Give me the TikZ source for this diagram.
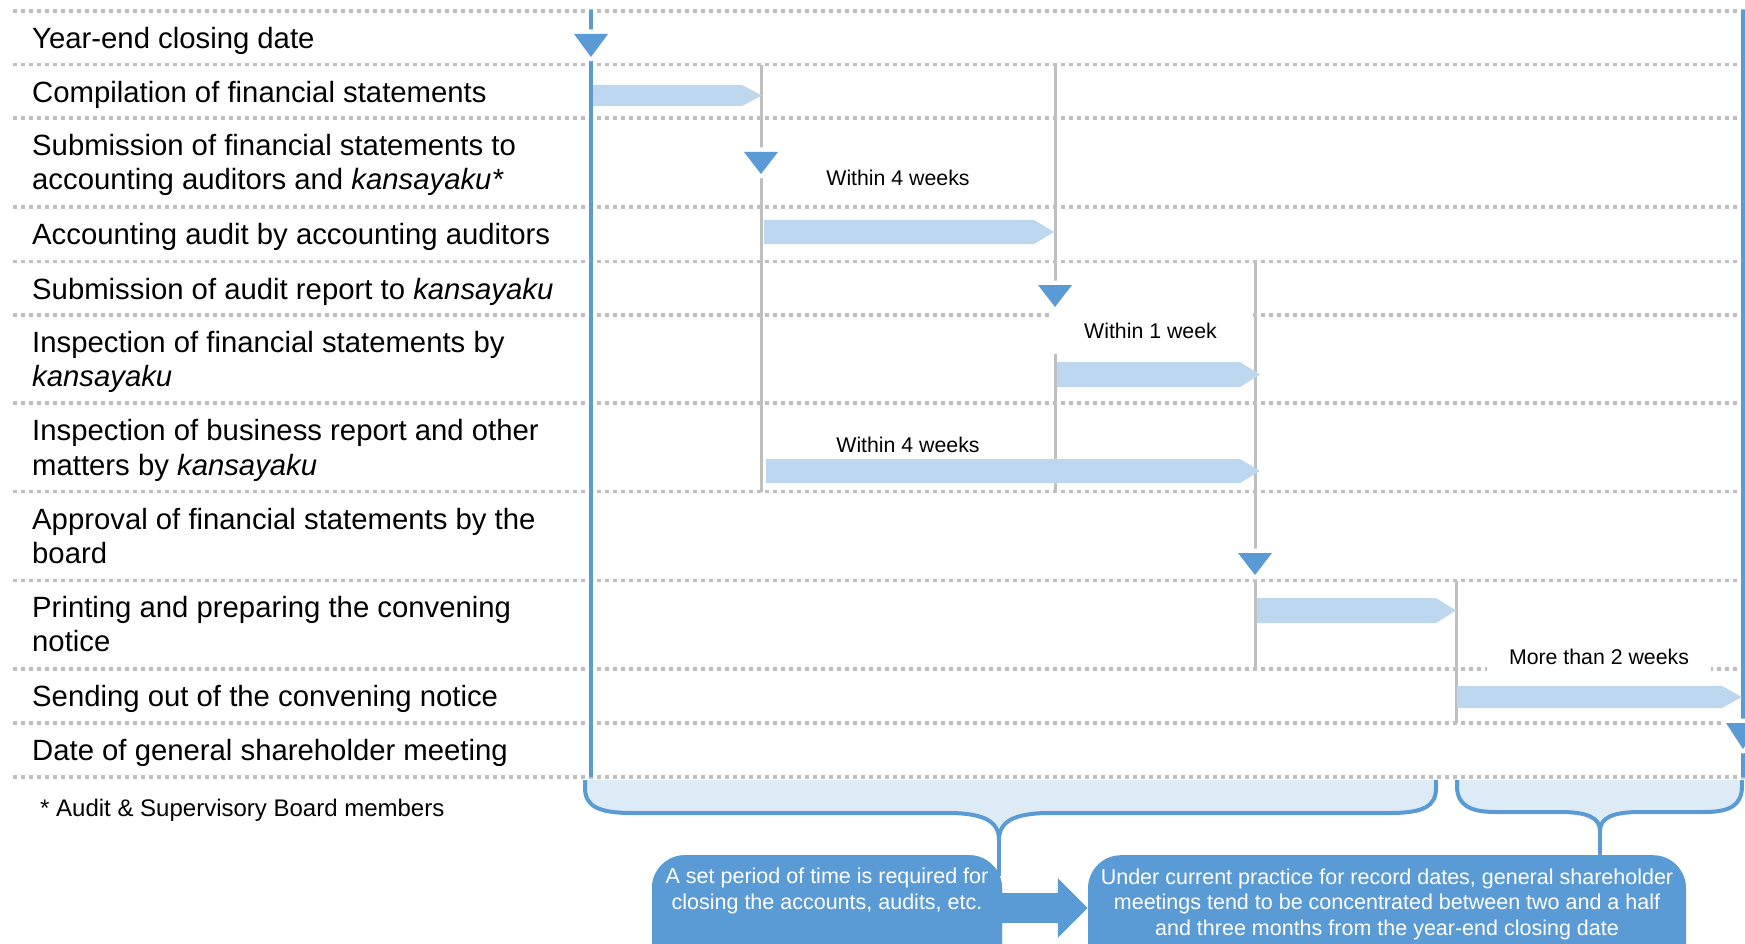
\documentclass[tikz,border=0pt]{standalone}
\usepackage{fontspec}
\setmainfont{Liberation Sans}
\usetikzlibrary{arrows.meta}
\definecolor{mblue}{HTML}{5B9BD5}
\definecolor{lblue}{HTML}{BDD7EE}
\definecolor{bfill}{HTML}{DDEBF7}
\definecolor{gridc}{HTML}{BFBFBF}
\newcommand\mybar[4]{\fill[bar] (#1,{#3-#4/2}) -- ({#2-20},{#3-#4/2}) -- (#2,#3) -- ({#2-20},{#3+#4/2}) -- (#1,{#3+#4/2}) -- cycle;}
\newcommand\mytri[3]{%
  \path[draw=white,line width=9pt,line join=round] ({#1-17},#2) -- ({#1+17},#2) -- (#1,{#2+#3}) -- cycle;
  \fill[mblue] ({#1-17},#2) -- ({#1+17},#2) -- (#1,{#2+#3}) -- cycle;}
\begin{document}
\begin{tikzpicture}[x=1pt,y=-1pt,
  rowline/.style={draw=gridc,line width=3.5pt,dash pattern=on 4pt off 4pt},
  vgray/.style={draw=gridc,line width=3pt},
  vblue/.style={draw=mblue,line width=3.5pt},
  bar/.style={fill=lblue},
  lab/.style={anchor=west,inner sep=0pt,align=left,font=\fontsize{29.3}{34.5}\selectfont,execute at begin node=\strut,execute at end node=\strut},
  dur/.style={inner sep=0pt,font=\fontsize{21.3}{25}\selectfont},
  brace/.style={draw=mblue,line width=4pt,fill=bfill,line join=round},
  stem/.style={draw=mblue,line width=4pt},
  box/.style={fill=mblue,rounded corners=33pt,inner sep=0pt},
  boxtext/.style={text=white,align=center,inner sep=0pt,font=\fontsize{21.5}{25.5}\selectfont}
]
\useasboundingbox (0,0) rectangle (1745,944);
\clip (0,0) rectangle (1745,944);
% row separators
\foreach \y in {11,64.7,118,207,261.5,315,403,491.5,580.5,669,723,777}
  \draw[rowline] (13,\y) -- (1745,\y);
% vertical lines
\draw[vgray] (761,64.7) -- (761,491.5);
\draw[vgray] (1055,64.7) -- (1055,491.5);
\draw[vgray] (1255,261.5) -- (1255,669);
\draw[vgray] (1456,580.5) -- (1456,723);
\draw[vblue] (591,10) -- (591,777);
\draw[vblue] (1743,10) -- (1743,777);
% bars
\mybar{593}{762}{95.5}{21}
\mybar{764}{1054}{232}{24}
\mybar{1057}{1260}{374.5}{25}
\mybar{766}{1260}{471}{24}
\mybar{1257}{1456}{610.5}{25}
\mybar{1457}{1742}{697}{22}
% markers
\mytri{591}{34}{23}
\mytri{761}{152}{22}
\mytri{1055}{285}{22}
\mytri{1255}{553}{22}
\mytri{1743}{723}{26}
% duration labels
\node[dur] (w4a) at (898,178) {Within 4 weeks};
\node[dur] (w4b) at (908,445) {Within 4 weeks};
\node[dur,fill=white,minimum width=197pt,minimum height=46pt] (w1) at (1150.5,331) {Within 1 week};
\node[dur,fill=white,minimum width=224pt,minimum height=46pt] (m2) at (1599,657) {More than 2 weeks};
% row labels
\node[lab] (l1) at (32,42) {Year-end closing date};
\node[lab] (l2) at (32,95.4) {Compilation of financial statements};
\node[lab] (l3) at (32,167) {Submission of financial statements to\\accounting auditors and \textit{kansayaku*}};
\node[lab] (l4) at (32,238) {Accounting audit by accounting auditors};
\node[lab] (l5) at (32,292.5) {Submission of audit report to \textit{kansayaku}};
\node[lab] (l6) at (32,364) {Inspection of financial statements by\\\textit{kansayaku}};
\node[lab] (l7) at (32,452.5) {Inspection of business report and other\\matters by \textit{kansayaku}};
\node[lab] (l8) at (32,541) {Approval of financial statements by the\\board};
\node[lab] (l9) at (32,629) {Printing and preparing the convening\\notice};
\node[lab] (l10) at (32,700) {Sending out of the convening notice};
\node[lab] (l11) at (32,754) {Date of general shareholder meeting};
\node[anchor=west,inner sep=0pt,font=\fontsize{24}{28}\selectfont] (fn) at (40,810) {* Audit \& Supervisory Board members};
% braces
\filldraw[brace] (585,780) -- (585,788) .. controls (585,806) and (598,813) .. (632,813) -- (948,813) .. controls (985,813) and (999,822) .. (999,840) .. controls (999,822) and (1013,813) .. (1050,813) -- (1390,813) .. controls (1424,813) and (1436,806) .. (1436,788) -- (1436,780);
\coordinate (ltip) at (999,838);
\filldraw[brace] (1457,780) -- (1457,786) .. controls (1457,805) and (1470,812) .. (1495,812) -- (1560,812) .. controls (1588,812) and (1600,818) .. (1600,831) .. controls (1600,818) and (1612,812) .. (1640,812) -- (1705,812) .. controls (1730,812) and (1742,805) .. (1742,786) -- (1742,780);
\coordinate (rtip) at (1600,829);
% boxes
\node[box,minimum width=350pt,minimum height=130pt,anchor=north] (lbox) at (827,855) {};
\node[box,minimum width=598pt,minimum height=130pt,anchor=north] (rbox) at (1387,855) {};
\draw[stem] (ltip) -- (ltip |- 0,876);
\draw[stem] (rtip) -- (rtip |- rbox.north);
\node[box,minimum width=350pt,minimum height=130pt,anchor=north] at (lbox.north) {};
\node[boxtext] (ltext) at (827,891) {A set period of time is required for\\closing the accounts, audits, etc.};
\node[boxtext] (rtext) at (1387,904) {Under current practice for record dates, general shareholder\\meetings tend to be concentrated between two and a half\\and three months from the year-end closing date};
\draw[mblue,line width=30pt,-{Triangle[length=30pt,width=58pt]}] (lbox.east |- 0,908) -- (rbox.west |- 0,908);
\end{tikzpicture}
\end{document}
